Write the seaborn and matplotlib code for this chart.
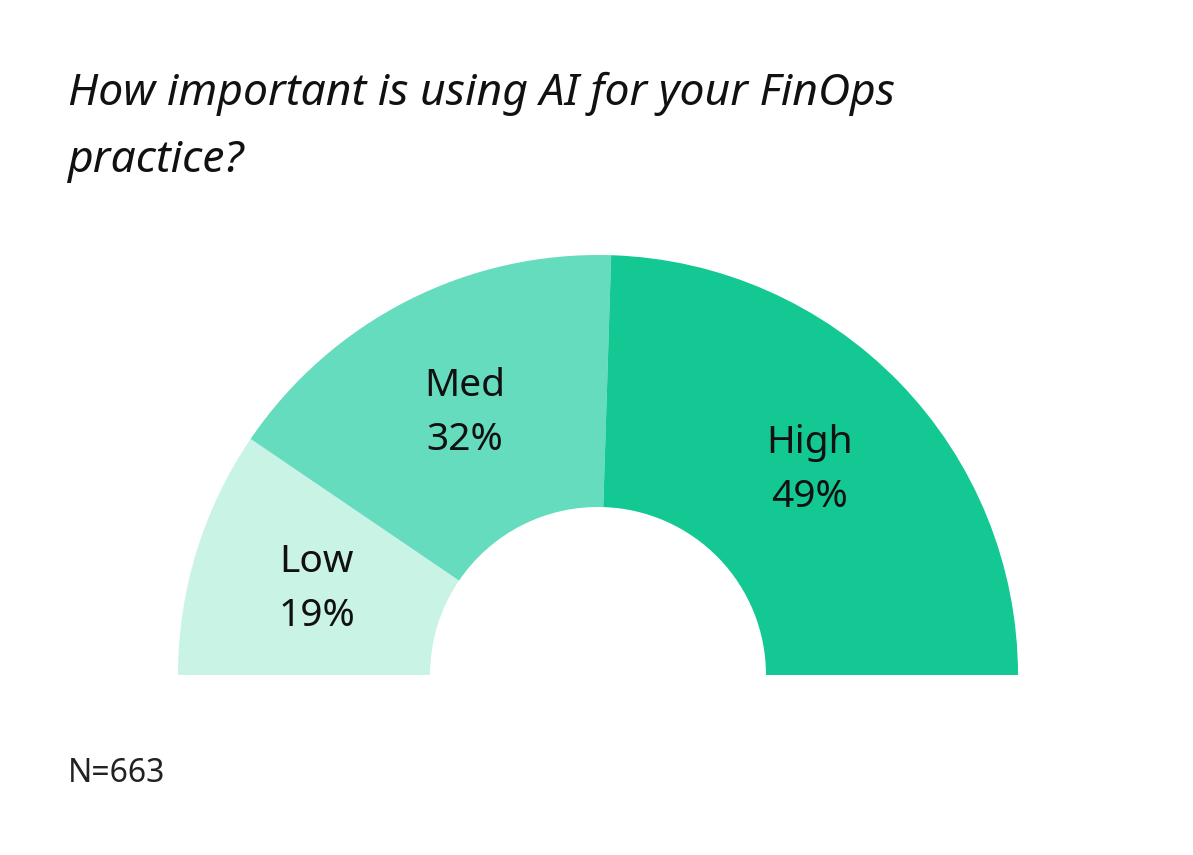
import numpy as np
import matplotlib
matplotlib.use("Agg")
import matplotlib.pyplot as plt
import seaborn as sns

# Survey data
categories = ["Low", "Med", "High"]
shares = [19, 32, 49]
colors = ["#c8f3e5", "#66dcbf", "#13c892"]

sns.set_theme(style="white")
plt.rcParams['font.family'] = ['Noto Sans', 'DejaVu Sans']

W, H = 1193, 855
fig = plt.figure(figsize=(W / 100, H / 100), dpi=100)
fig.patch.set_facecolor("white")

# half donut, centre at (598, 675) px, outer radius 420 px
cx, cy, R = 598, 675, 420
ax = fig.add_axes([(cx - R) / W, (H - cy - R) / H, 2 * R / W, 2 * R / H])
vals = shares + [sum(shares)]
wedges, _ = ax.pie(vals, startangle=180, counterclock=False, radius=1,
                   colors=colors + ["none"],
                   wedgeprops=dict(width=1 - 168 / 420, linewidth=0))
ax.set_xlim(-1, 1)
ax.set_ylim(-1, 1)
ax.set_aspect("equal")
ax.axis("off")

# labels
start = 180.0
total = sum(shares)
for cat, s in zip(categories, shares):
    span = s / total * 180
    mid = np.deg2rad(start - span / 2)
    r = 0.70
    ax.text(r * np.cos(mid), r * np.sin(mid), f"{cat}\n{s}%",
            ha="center", va="center", fontsize=28, color="#111111",
            linespacing=1.55)
    start -= span

fig.text(68 / W, 1 - 72 / H, "How important is using AI for your FinOps\npractice?",
         fontsize=32, style="italic", color="#111111", va="top",
         linespacing=1.65, fontweight="light")
fig.text(68 / W, 1 - 782 / H, "N=663", fontsize=23, color="#222222")

fig.savefig("out.png", dpi=100)
